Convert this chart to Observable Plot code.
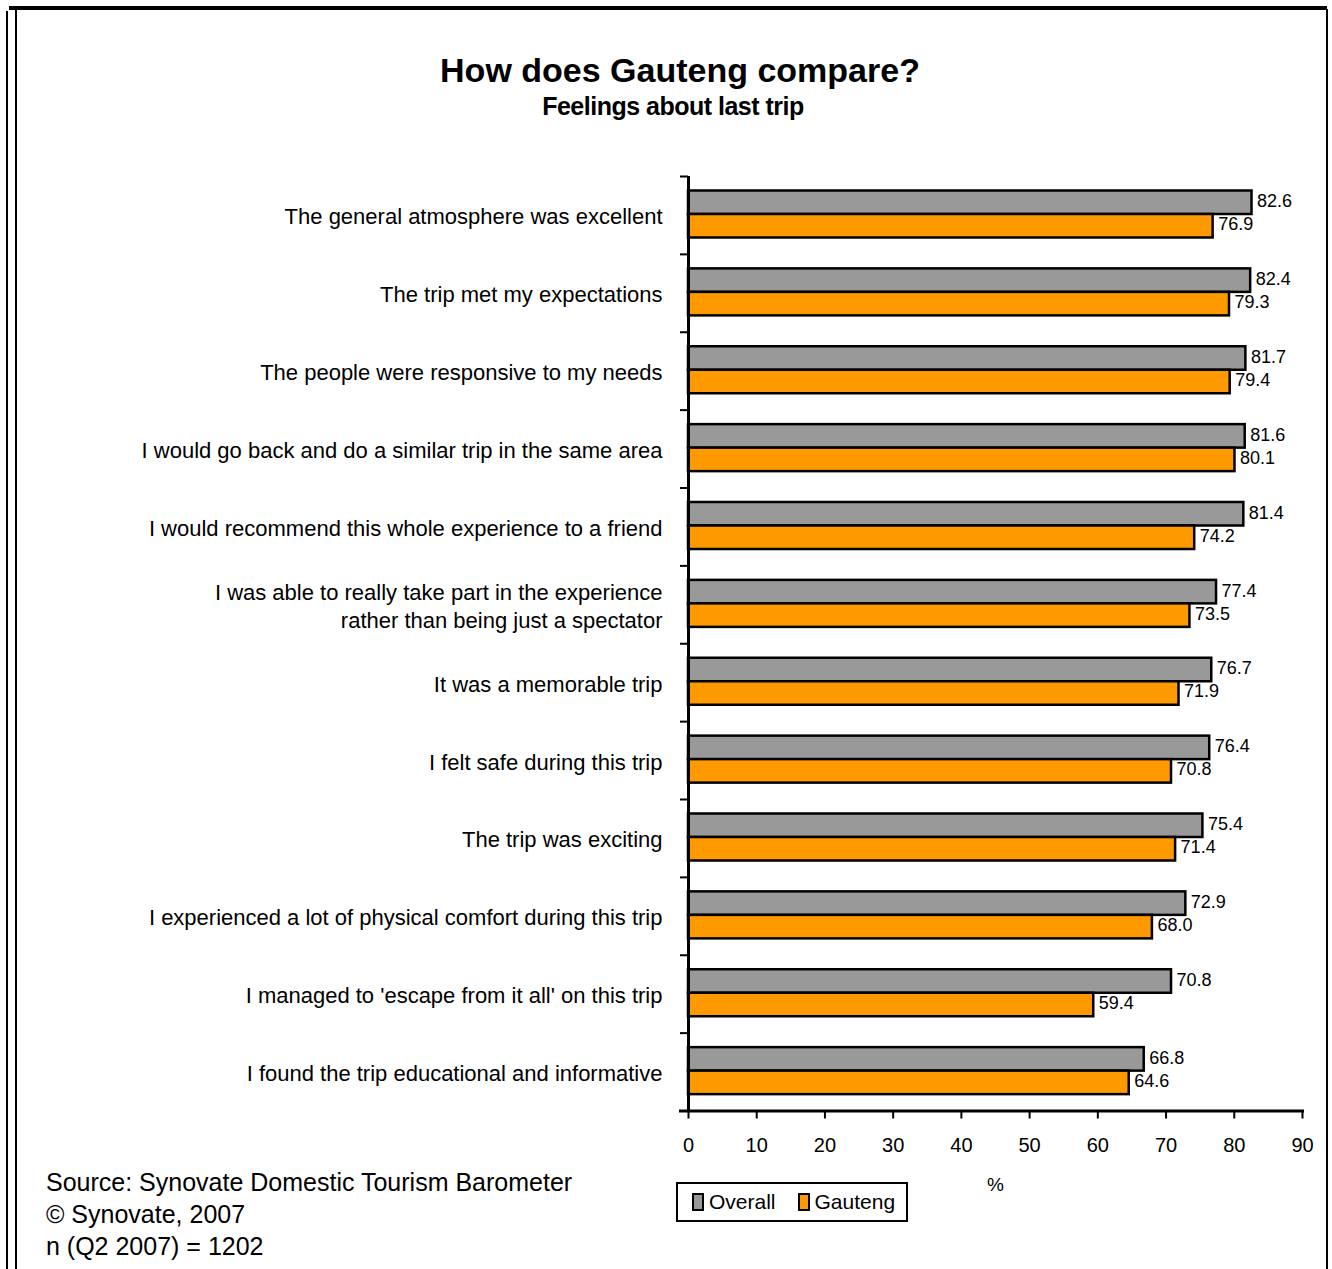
<!DOCTYPE html>
<html>
<head>
<meta charset="utf-8">
<script src="https://cdn.jsdelivr.net/npm/d3@7"></script>
<script src="https://cdn.jsdelivr.net/npm/@observablehq/plot@0.6"></script>
<style>
  html, body { margin: 0; padding: 0; background: #fff; }
  body { width: 1332px; height: 1269px; position: relative; overflow: hidden; font-family: "Liberation Sans", Arial, sans-serif; color: #000; }
  .abs { position: absolute; }
  .line { position: absolute; background: #000; }
  #title { left: 680px; top: 50px; transform: translateX(-50%); font-weight: bold; font-size: 34px; white-space: nowrap; line-height: 40px; }
  #subtitle { left: 673px; top: 91px; transform: translateX(-50%); font-weight: bold; font-size: 25px; white-space: nowrap; line-height: 30px; letter-spacing: -0.5px; }
  #source { left: 46px; top: 1166px; font-size: 25px; line-height: 32px; white-space: nowrap; }
  #legend { left: 676px; top: 1182px; width: 228px; height: 36px; border: 2px solid #000; font-size: 21px; display: flex; align-items: center; }
  .sw { display: inline-block; width: 8px; height: 14px; border: 2px solid #000; margin-right: 5px; }
  .item { display: flex; align-items: center; margin-left: 14px; }
  #pct { left: 987px; top: 1174px; font-size: 19px; }
  #chart { position: absolute; left: 0; top: 0; }
</style>
</head>
<body>
<div class="line" style="left:9px; top:6px; width:1318px; height:4px;"></div>
<div class="line" style="left:6px; top:11px; width:2px; height:1258px;"></div>
<div class="line" style="left:15px; top:8px; width:2px; height:1261px;"></div>
<div class="line" style="left:1326px; top:9px; width:2px; height:1260px;"></div>

<div id="title" class="abs">How does Gauteng compare?</div>
<div id="subtitle" class="abs">Feelings about last trip</div>
<div id="chart"></div>
<div id="pct" class="abs">%</div>
<div id="legend" class="abs">
  <div class="item"><span class="sw" style="background:#999999"></span>Overall</div>
  <div class="item" style="margin-left:22px"><span class="sw" style="background:#FF9900"></span>Gauteng</div>
</div>
<div id="source" class="abs">Source: Synovate Domestic Tourism Barometer<br>© Synovate, 2007<br>n (Q2 2007) = 1202</div>

<script>
const categories = [
  "The general atmosphere was excellent",
  "The trip met my expectations",
  "The people were responsive to my needs",
  "I would go back and do a similar trip in the same area",
  "I would recommend this whole experience to a friend",
  "I was able to really take part in the experience\nrather than being just a spectator",
  "It was a memorable trip",
  "I felt safe during this trip",
  "The trip was exciting",
  "I experienced a lot of physical comfort during this trip",
  "I managed to 'escape from it all' on this trip",
  "I found the trip educational and informative"
];
const overall = [82.6, 82.4, 81.7, 81.6, 81.4, 77.4, 76.7, 76.4, 75.4, 72.9, 70.8, 66.8];
const gauteng = [76.9, 79.3, 79.4, 80.1, 74.2, 73.5, 71.9, 70.8, 71.4, 68.0, 59.4, 64.6];
const xTicks = [0, 10, 20, 30, 40, 50, 60, 70, 80, 90];

const data = categories.map((c, i) => ({cat: c, overall: overall[i], gauteng: gauteng[i]}));

const W = 1332, H = 1269;
const mTop = 176, mBottom = 158.5, mLeft = 688, mRight = 30;
const band = (H - mTop - mBottom) / categories.length;
const barH = 23.5;
const topGap = 14.5;

const chart = Plot.plot({
  width: W,
  height: H,
  marginTop: mTop,
  marginBottom: mBottom,
  marginLeft: mLeft,
  marginRight: mRight,
  style: {fontFamily: "'Liberation Sans', Arial, sans-serif", color: "#000", background: "transparent", overflow: "visible"},
  x: {domain: [0, 90]},
  y: {domain: categories, padding: 0, round: false},
  marks: [
    Plot.barX(data, {y: "cat", x: "overall", fill: "#999999", stroke: "#000", strokeWidth: 2.5,
      insetTop: topGap, insetBottom: band - topGap - barH}),
    Plot.barX(data, {y: "cat", x: "gauteng", fill: "#FF9900", stroke: "#000", strokeWidth: 2.5,
      insetTop: topGap + barH, insetBottom: band - topGap - 2 * barH}),
    Plot.text(data, {y: "cat", x: "overall", text: d => d.overall.toFixed(1), dx: 5, dy: -14,
      textAnchor: "start", fontSize: 18, fill: "#000"}),
    Plot.text(data, {y: "cat", x: "gauteng", text: d => d.gauteng.toFixed(1), dx: 5, dy: 9,
      textAnchor: "start", fontSize: 18, fill: "#000"}),
    Plot.ruleX([0], {strokeWidth: 3, stroke: "#000"}),
    Plot.frame({anchor: "bottom", strokeWidth: 3, stroke: "#000", insetLeft: -8}),
    Plot.axisX({ticks: xTicks, tickSize: 8, tickPadding: 19, fontSize: 20, label: null, strokeWidth: 2, tickFormat: d => String(d)}),
    Plot.axisY({tickSize: 8, text: null, label: null, dy: -band / 2, strokeWidth: 2}),
    Plot.axisY({tickSize: 0, tickPadding: 26, fontSize: 22, lineHeight: 1.27, label: null})
  ]
});
document.getElementById("chart").appendChild(chart);
</script>
</body>
</html>
